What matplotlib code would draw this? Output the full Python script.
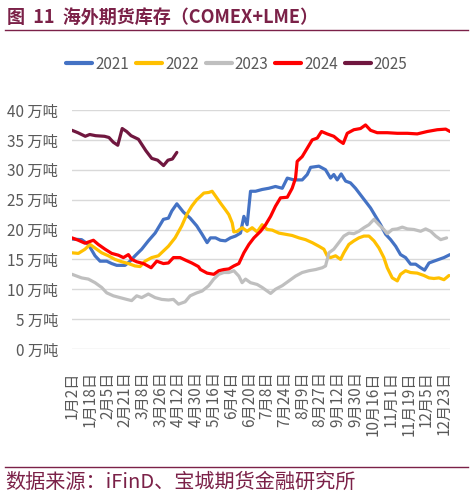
import numpy as np
import matplotlib
matplotlib.use("Agg")
import matplotlib.pyplot as plt

plt.rcParams["font.family"] = ["Noto Sans CJK SC", "DejaVu Sans"]

# x axis: trading-day index within the year, labels every 12 days
tick_labels = ["1月2日", "1月18日", "2月5日", "2月21日", "3月8日", "3月26日",
               "4月12日", "4月30日", "5月16日", "6月4日", "6月20日", "7月8日",
               "7月24日", "8月9日", "8月27日", "9月12日", "9月30日", "10月16日",
               "11月1日", "11月19日", "12月5日", "12月23日"]
y_ticks = [0, 5, 10, 15, 20, 25, 30, 35, 40]

# inventory, 10k tonnes
days_2021 = [0, 6.5, 11.1, 15.6, 19, 23.5, 26.9, 30.3, 35.9, 39.3, 42.7, 47.2, 51.7, 56.3,
             61.9, 65.3, 67.6, 71, 75.5, 80, 84.5,
             88.1, 91.5, 93.8, 97.2, 100.5, 103.9, 107.3, 110.7, 114.1, 116.4, 118.6, 120.9,
             124.3, 128.8, 133.3, 137.8, 142.4, 145.8, 150.3, 155.9, 159.3, 161.6, 167.2,
             171.7, 175.1, 177.3, 179.6, 182.3, 185.3, 188.6, 192, 195.4, 198.8, 202.2, 205.6,
             209, 212.4, 215.8, 219.2, 222.5, 225.9, 229.3, 232.7, 236.1, 238.8, 241.8, 245.1,
             248.5, 251.9, 256]
vals_2021 = [18.4, 18.3, 17.5, 15.6, 14.7, 14.7, 14.3, 14.0, 14.0, 14.7, 15.6, 16.7, 18.1, 19.4,
             21.7, 21.9, 23.1, 24.3, 22.9, 21.9, 20.6,
             19.2, 17.8, 18.6, 18.6, 18.2, 18.1, 18.6, 18.9, 19.4, 22.2, 20.8, 26.4,
             26.4, 26.7, 26.9, 27.2, 26.9, 28.6, 28.3, 28.3, 29.2, 30.4, 30.6,
             30.0, 28.6, 29.2, 28.3, 29.3, 28.1, 27.8, 26.9, 25.8, 24.7, 23.6, 22.2,
             20.8, 19.2, 18.3, 17.2, 15.8, 15.3, 14.2, 14.2, 13.6, 13.2, 14.4, 14.7,
             15.0, 15.3, 15.8]

days_2022 = [0, 4.3, 8.8, 12.2, 15.6, 20.1, 24.6, 29.1, 33.7, 38.2, 42.7, 46.1, 49.5, 54,
             58.5, 61.9, 65.3, 69.8, 74.3, 77.7, 81.1, 84.5,
             85.9, 89.3, 92.6, 94.9, 97.2, 100.6, 103.9, 106.2, 108.5, 109.6, 111.9, 115.2,
             118.6, 122, 125.4, 128.8, 132.2, 135.6, 140.1, 144.6, 149.1, 153.7, 158.2, 162.7,
             167.2,
             170.6, 172.8, 175.1, 178.5, 181.9, 184.1, 187.5, 190.9, 194.3, 197.7, 201.1, 204.5,
             207.9, 211.2, 213.5, 216.9, 220.3, 222.5, 225.9, 229.3, 233.8, 238.4, 241.8, 245.1,
             248.5, 251.9, 255.3]
vals_2022 = [16.1, 16.0, 16.7, 17.5, 16.9, 16.1, 15.6, 15.0, 14.6, 14.3, 13.9, 13.8, 14.7, 15.3,
             15.6, 16.4, 17.2, 18.6, 20.6, 22.5, 23.9, 25.0,
             25.3, 26.1, 26.2, 26.4, 25.6, 24.4, 23.3, 22.5, 21.1, 19.6, 19.7, 20.3,
             19.7, 20.3, 19.6, 20.8, 20.0, 19.9, 19.4, 19.2, 19.0, 18.6, 18.3, 17.8,
             17.2,
             16.7, 15.6, 15.3, 15.6, 15.0, 16.1, 17.5, 18.1, 18.6, 18.9, 18.9, 18.1,
             16.9, 15.3, 13.6, 11.9, 11.4, 12.5, 13.1, 12.8, 12.7, 12.3, 11.9, 11.8,
             11.9, 11.6, 12.3]

days_2023 = [0, 6.5, 11.1, 15.6, 20.1, 23.5, 28, 32.5, 37.1, 40.4, 43.8, 47.2, 51.7, 56.3,
             60.8, 65.3, 68.7, 72.1, 76.6, 80, 84.5,
             88.1, 92.6, 96, 99.4, 102.8, 106.2, 109.6, 113, 115.2, 117.5, 120.9, 125.4,
             128.8, 132.2, 134.5, 137.8, 142.4, 146.9, 151.4, 155.9, 160.4, 165, 169.5,
             171.7, 174, 177.3, 180.7, 184.1, 187.5, 190.9, 194.3, 197.7, 201.1, 204.5, 207.9,
             211.2, 213.5, 216.9, 220.3, 223.7, 227.1, 231.6, 236.1, 239.5, 242.9, 246.3,
             249.7, 253.7]
vals_2023 = [12.5, 11.9, 11.7, 11.1, 10.3, 9.4, 8.9, 8.6, 8.3, 8.1, 8.9, 8.6, 9.2, 8.6,
             8.3, 8.2, 8.3, 7.5, 7.9, 8.9, 9.4,
             9.7, 10.6, 11.7, 12.5, 12.8, 12.8, 13.1, 12.2, 11.1, 11.7, 11.1, 10.8,
             10.3, 9.7, 9.3, 10.0, 10.6, 11.4, 12.2, 12.8, 13.1, 13.3, 13.6,
             13.9, 16.1, 16.7, 17.8, 18.9, 19.4, 19.3, 19.7, 20.3, 20.8, 21.7, 20.8,
             20.0, 19.3, 20.0, 20.1, 20.4, 20.1, 20.0, 19.7, 20.1, 19.7, 18.9,
             18.3, 18.6]

days_2024 = [0, 4.3, 8.8, 14.5, 17.8, 22.4, 26.9, 31.4, 34.8, 38.2, 40.4, 43.8, 48.4, 53.6,
             57.4, 61.9, 65.3, 68.7, 73.2, 76.6, 81.1, 85.6,
             87, 91.5, 96, 99.4, 102.8, 106.2, 109.6, 113, 116.4, 119.8, 123.2, 127.7,
             131.1, 134.5, 137.8, 141.2, 145.8, 149.1, 151.4, 152.5, 155.9, 159.3, 162.7,
             166.1, 169,
             172.8, 177.3, 180.7, 183.7, 186.4, 190.9, 195.4, 198.8, 202.2, 206.7, 213.5,
             220.3, 227.1, 233.8, 240.6, 247.4, 253.1, 256]
vals_2024 = [18.6, 18.2, 17.7, 18.2, 17.5, 16.7, 16.0, 15.7, 15.3, 15.8, 15.0, 14.6, 14.3, 13.6,
             14.7, 14.3, 14.4, 15.3, 15.3, 14.9, 14.4, 13.8,
             13.3, 12.7, 12.5, 13.1, 13.3, 13.4, 13.9, 14.3, 16.1, 17.5, 18.6, 19.7,
             20.8, 22.2, 23.9, 25.3, 25.4, 26.9, 28.6, 31.4, 32.2, 33.6, 35.0,
             35.3, 36.4,
             36.0, 35.6, 34.9, 34.4, 36.1, 36.7, 36.9, 37.5, 36.6, 36.2, 36.2,
             36.1, 36.1, 36.0, 36.4, 36.7, 36.8, 36.4]

days_2025 = [0, 4, 9, 12, 16, 22, 25, 28, 31, 34, 37, 40, 45, 50, 54, 58, 62, 65, 68, 71]
vals_2025 = [36.6, 36.2, 35.6, 35.9, 35.7, 35.6, 35.4, 34.6, 34.1, 36.9, 36.4, 35.7, 35.1,
             33.2, 31.9, 31.6, 30.7, 31.6, 31.8, 32.9]

series = [
    ("2021", days_2021, vals_2021, "#4472C4"),
    ("2022", days_2022, vals_2022, "#FFC000"),
    ("2023", days_2023, vals_2023, "#BFBFBF"),
    ("2024", days_2024, vals_2024, "#FF0000"),
    ("2025", days_2025, vals_2025, "#70173F"),
]

MAROON = "#7B2148"
TEXT_GRAY = "#595959"

fig = plt.figure(figsize=(4.73, 4.98), dpi=100)
ax = fig.add_axes([72 / 473, 1 - 349 / 498, (450 - 72) / 473, (349 - 110) / 498])

for name, days, vals, color in series:
    ax.plot(days, vals, color=color, linewidth=2.3, label=name, solid_capstyle="round")

ax.set_xlim(0, 256)
ax.set_ylim(0, 40)
ax.set_yticks(y_ticks)
ax.set_yticklabels([f"{v} 万吨" for v in y_ticks], fontsize=11, color=TEXT_GRAY)
ax.set_xticks(np.arange(len(tick_labels)) * 12)
ax.set_xticklabels(tick_labels, rotation=90, fontsize=11, color=TEXT_GRAY, va="top")
ax.tick_params(axis="both", length=0)
ax.tick_params(axis="y", pad=10)
ax.tick_params(axis="x", pad=16)
ax.grid(axis="y", color="#D9D9D9", linewidth=1)
ax.set_axisbelow(True)
for side in ax.spines:
    ax.spines[side].set_visible(False)

leg = fig.legend(loc="center", bbox_to_anchor=(237 / 473, 1 - 64 / 498), ncol=5, frameon=False,
                 fontsize=11, handlelength=1.7, columnspacing=0.45, handletextpad=0.2)
for t in leg.get_texts():
    t.set_color(TEXT_GRAY)
for h in leg.get_lines():
    h.set_linewidth(3)

fig.text(7 / 473, 1 - 17 / 498, "图  11  海外期货库存（COMEX+LME）", fontsize=13,
         fontweight="bold", color=MAROON, va="center", ha="left")
fig.add_artist(plt.Line2D([5 / 473, 468 / 473], [1 - 30 / 498, 1 - 30 / 498],
                          color=MAROON, linewidth=1))
fig.add_artist(plt.Line2D([5 / 473, 468 / 473], [1 - 467 / 498, 1 - 467 / 498],
                          color=MAROON, linewidth=1))
fig.text(5 / 473, 1 - 482 / 498, "数据来源：iFinD、宝城期货金融研究所", fontsize=14.5,
         color=MAROON, va="center", ha="left")

fig.savefig("out.png", dpi=100)
